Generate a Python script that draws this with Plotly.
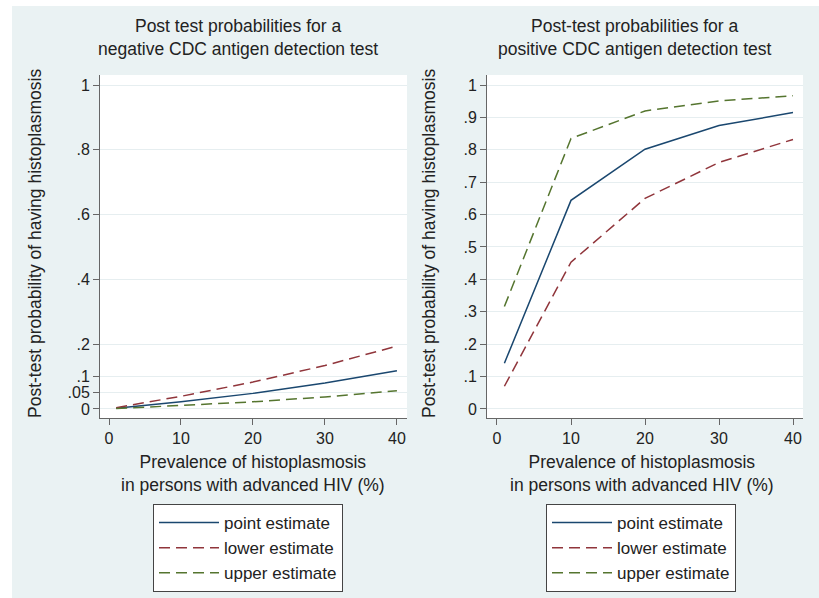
import plotly.graph_objects as go

prevalence = [1, 10, 20, 30, 40]

neg_point = [0.002, 0.022, 0.048, 0.080, 0.118]
neg_lower = [0.004, 0.039, 0.083, 0.134, 0.194]
neg_upper = [0.001, 0.010, 0.022, 0.037, 0.056]

pos_point = [0.141, 0.644, 0.802, 0.875, 0.915]
pos_lower = [0.070, 0.453, 0.650, 0.761, 0.832]
pos_upper = [0.316, 0.835, 0.920, 0.951, 0.967]

series_names = ["point estimate", "lower estimate", "upper estimate"]
colors = ["#1a476f", "#90353b", "#55752f"]
dashes = ["solid", "11px,6px", "11px,6px"]

left_yticks = [0, 0.05, 0.1, 0.2, 0.4, 0.6, 0.8, 1]
left_ylabels = ["0", ".05", ".1", ".2", ".4", ".6", ".8", "1"]
right_yticks = [0, 0.1, 0.2, 0.3, 0.4, 0.5, 0.6, 0.7, 0.8, 0.9, 1]
right_ylabels = ["0", ".1", ".2", ".3", ".4", ".5", ".6", ".7", ".8", ".9", "1"]
xticks = [0, 10, 20, 30, 40]

title_left = "Post test probabilities for a<br>negative CDC antigen detection test"
title_right = "Post-test probabilities for a<br>positive CDC antigen detection test"
xtitle = "Prevalence of histoplasmosis<br>in persons with advanced HIV (%)"
ytitle = "Post-test probability of having histoplasmosis"

W, H = 819, 598
BG = "#eaf2f3"
TXT = "#222222"
FONT = "Liberation Sans, Arial, sans-serif"

fig = go.Figure()

for i, (name, ys) in enumerate(zip(series_names, [neg_point, neg_lower, neg_upper])):
    fig.add_trace(go.Scatter(x=prevalence, y=ys, mode="lines", name=name,
                             line=dict(color=colors[i], width=1.5, dash=dashes[i]),
                             xaxis="x", yaxis="y", legend="legend",
                             legendgroup="L%d" % i))
for i, (name, ys) in enumerate(zip(series_names, [pos_point, pos_lower, pos_upper])):
    fig.add_trace(go.Scatter(x=prevalence, y=ys, mode="lines", name=name,
                             line=dict(color=colors[i], width=1.5, dash=dashes[i]),
                             xaxis="x2", yaxis="y2", legend="legend2",
                             legendgroup="R%d" % i))

ydom = [1 - 418 / H, 1 - 75 / H]
axis_common = dict(showline=True, linecolor="#666666", linewidth=1,
                   ticks="outside", ticklen=6, tickcolor="#666666",
                   tickfont=dict(size=16, color=TXT, family=FONT),
                   zeroline=False)

legend_common = dict(bgcolor="white", bordercolor="#444444", borderwidth=1,
                     font=dict(size=17, color=TXT, family=FONT),
                     itemwidth=60, tracegroupgap=0, traceorder="grouped",
                     xanchor="left", yanchor="top")

fig.update_layout(
    width=W, height=H,
    margin=dict(l=0, r=0, t=0, b=0),
    paper_bgcolor=BG, plot_bgcolor="white",
    font=dict(family=FONT, color=TXT),
    xaxis=dict(domain=[100 / W, 407 / W], range=[-1.25, 41.4], tickvals=xticks,
               showgrid=False, anchor="y", **axis_common),
    yaxis=dict(domain=ydom, range=[-0.028, 1.031], tickvals=left_yticks,
               ticktext=left_ylabels, showgrid=True, gridcolor="#e6eef0",
               anchor="x", **axis_common),
    xaxis2=dict(domain=[487 / W, 803 / W], range=[-1.35, 41.35], tickvals=xticks,
                showgrid=False, anchor="y2", **axis_common),
    yaxis2=dict(domain=ydom, range=[-0.028, 1.031], tickvals=right_yticks,
                ticktext=right_ylabels, showgrid=True, gridcolor="#e6eef0",
                anchor="x2", **axis_common),
    legend=dict(x=153 / W, y=1 - 504 / H, **legend_common),
    legend2=dict(x=546 / W, y=1 - 504 / H, **legend_common),
    showlegend=True,
)

# white outer margin strips
fig.add_shape(type="rect", xref="paper", yref="paper", x0=0, x1=12 / W, y0=0, y1=1,
              fillcolor="white", line_width=0, layer="above")
fig.add_shape(type="rect", xref="paper", yref="paper", x0=0, x1=1, y0=1 - 6 / H, y1=1,
              fillcolor="white", line_width=0, layer="above")

def ann(text, x, y, size=17.5, angle=0):
    fig.add_annotation(text=text, x=x / W, y=1 - y / H, xref="paper", yref="paper",
                       showarrow=False, textangle=angle, xanchor="center", yanchor="middle",
                       font=dict(size=size, color=TXT, family=FONT))

ann(title_left, 238, 38, size=17.5)
ann(title_right, 634, 38, size=17.5)
ann(xtitle, 253, 473, size=17.5)
ann(xtitle, 642, 473, size=17.5)
ann(ytitle, 35, 244, angle=-90)
ann(ytitle, 429, 244, angle=-90)

fig.write_html("out.html", config={"displayModeBar": False},
               post_script="document.body.style.margin='0';document.body.style.padding='0';")
